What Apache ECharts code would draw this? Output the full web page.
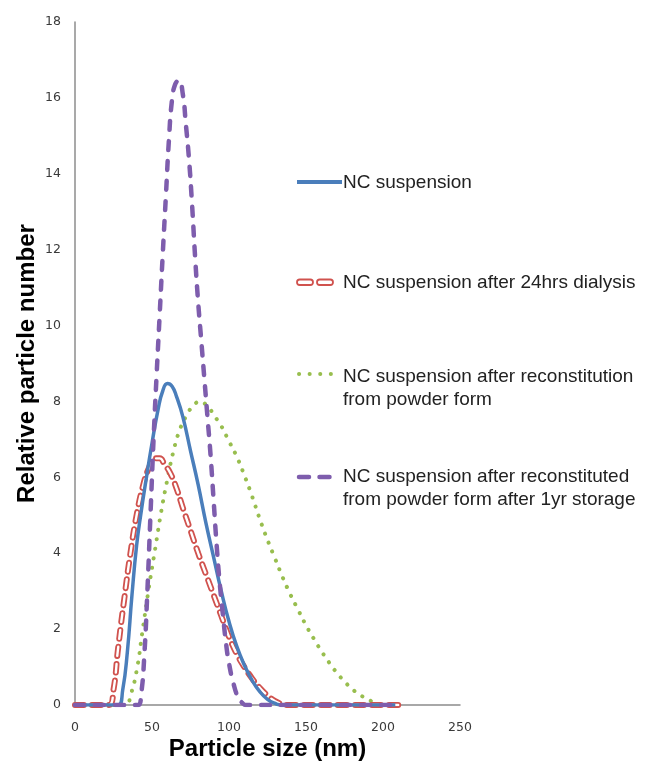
<!DOCTYPE html>
<html>
<head>
<meta charset="utf-8">
<script src="https://cdn.jsdelivr.net/npm/echarts@6/dist/echarts.min.js"></script>
<style>
  html, body { margin: 0; padding: 0; background: #fff; }
  #chart { width: 648px; height: 768px; }
</style>
</head>
<body>
<div id="chart"></div>
<script>
// Particle size distributions, [size (nm), relative particle number]
const seriesNames = [
  'NC suspension',
  'NC suspension after 24hrs dialysis',
  'NC suspension after reconstitution\nfrom powder form',
  'NC suspension after reconstituted\nfrom powder form after 1yr storage'
];

const ncSuspension = [
  [0, 0], [20, 0], [28, 0], [31, 0.4], [34, 1.4], [37, 2.9], [40, 4.2], [43, 5.1],
  [46, 5.9], [50, 6.9], [54, 7.8], [57, 8.28], [60, 8.47], [63, 8.4], [66, 8.12],
  [70, 7.6], [75, 6.7], [80, 5.8], [85, 4.8], [90, 3.9], [95, 3.0], [100, 2.2],
  [105, 1.55], [110, 1.05], [115, 0.65], [120, 0.35], [125, 0.15], [130, 0.04],
  [134, 0], [170, 0], [208, 0]
];

const afterDialysis = [
  [0, 0], [15, 0], [22, 0], [25, 0.4], [28, 1.5], [32, 2.8], [36, 4.0], [40, 5.0],
  [44, 5.75], [48, 6.25], [52, 6.5], [55, 6.5], [58, 6.35], [62, 6.1], [66, 5.7],
  [70, 5.2], [75, 4.6], [80, 4.0], [85, 3.45], [90, 2.9], [95, 2.35], [100, 1.8],
  [105, 1.35], [110, 1.0], [115, 0.7], [120, 0.45], [125, 0.25], [130, 0.1],
  [135, 0.02], [138, 0], [175, 0], [210, 0]
];

const afterReconstitution = [
  [0, 0], [20, 0], [33, 0], [36, 0.25], [40, 0.9], [44, 2.0], [48, 3.1], [52, 4.1],
  [56, 5.1], [60, 5.95], [64, 6.7], [68, 7.25], [72, 7.6], [76, 7.85], [81, 7.99],
  [86, 7.88], [90, 7.65], [95, 7.35], [100, 6.95], [105, 6.55], [110, 6.05], [115, 5.5],
  [120, 4.9], [125, 4.35], [130, 3.85], [135, 3.35], [140, 2.9], [145, 2.5], [150, 2.1],
  [155, 1.75], [160, 1.42], [165, 1.12], [170, 0.85], [175, 0.62], [180, 0.42],
  [185, 0.27], [190, 0.15], [195, 0.06], [200, 0], [208, 0]
];

const afterStorage = [
  [0, 0], [20, 0], [41, 0], [43, 0.3], [45, 1.3], [47, 3.0], [49, 5.0], [51, 7.0],
  [53, 8.7], [55, 10.3], [57, 11.9], [59, 13.4], [61, 14.9], [63, 15.95], [65, 16.35],
  [67.5, 16.47], [70, 16.1], [72, 15.3], [74, 14.4], [76, 13.2], [78, 11.8], [80, 10.6],
  [82, 9.6], [84, 8.6], [86, 7.6], [88, 6.6], [90, 5.4], [92, 4.2], [94, 3.2], [96, 2.4],
  [98, 1.65], [100, 1.1], [103, 0.55], [106, 0.2], [109, 0.04], [111, 0], [160, 0], [205, 0]
];

const xTicks = { min: 0, max: 250, interval: 50 };
const yTicks = { min: 0, max: 18, interval: 2 };

const colors = {
  blue: '#4A7EBB',
  red: '#D0524E',
  green: '#98BE4E',
  purple: '#7E5DAD'
};

const chart = echarts.init(document.getElementById('chart'), null, { renderer: 'canvas' });

// Legend drawn as a column of samples and captions to the right of the plot
const legendX = 297;
const textX = 343;
const lineH = 23;
const legendRows = [183, 283, 377, 477];

const legendGraphics = [
  { type: 'line', shape: { x1: legendX, y1: legendRows[0] - 1, x2: 342, y2: legendRows[0] - 1 },
    style: { stroke: colors.blue, lineWidth: 4 } },
  { type: 'rect', shape: { x: legendX, y: legendRows[1] - 3.5, width: 16, height: 5.5, r: 2.75 },
    style: { fill: '#fff', stroke: colors.red, lineWidth: 1.8 } },
  { type: 'rect', shape: { x: 317, y: legendRows[1] - 3.5, width: 16, height: 5.5, r: 2.75 },
    style: { fill: '#fff', stroke: colors.red, lineWidth: 1.8 } },
  { type: 'line', shape: { x1: 299, y1: legendRows[2] - 3, x2: 332, y2: legendRows[2] - 3 },
    style: { stroke: colors.green, lineWidth: 4, lineDash: [0.1, 10.5], lineCap: 'round' } },
  { type: 'line', shape: { x1: 299, y1: legendRows[3], x2: 332, y2: legendRows[3] },
    style: { stroke: colors.purple, lineWidth: 4.5, lineDash: [10, 10.5], lineCap: 'round' } }
];

seriesNames.forEach(function (name, i) {
  legendGraphics.push({
    type: 'text',
    style: {
      text: name,
      x: textX,
      y: legendRows[i] - lineH / 2,
      font: '19px "Liberation Sans", Arial, sans-serif',
      fill: '#222',
      lineHeight: lineH,
      verticalAlign: 'top',
      align: 'left'
    }
  });
});

const option = {
  animation: false,
  backgroundColor: '#fff',
  grid: { left: 75, right: 188, top: 22, bottom: 63 },
  xAxis: {
    type: 'value',
    min: xTicks.min, max: xTicks.max, interval: xTicks.interval,
    name: 'Particle size (nm)',
    nameLocation: 'middle',
    nameGap: 32,
    nameMoveOverlap: false,
    nameTextStyle: { fontFamily: '"Liberation Sans", Arial, sans-serif', fontWeight: 'bold', fontSize: 24, color: '#000' },
    axisLine: { show: true, lineStyle: { color: '#8c8c8c', width: 1.5 } },
    axisTick: { show: false },
    splitLine: { show: false },
    axisLabel: { margin: 16, fontFamily: '"DejaVu Sans", sans-serif', fontSize: 12.5, color: '#3a3a3a' }
  },
  yAxis: {
    type: 'value',
    min: yTicks.min, max: yTicks.max, interval: yTicks.interval,
    name: 'Relative particle number',
    nameLocation: 'middle',
    nameGap: 36,
    nameMoveOverlap: false,
    nameTextStyle: { fontFamily: '"Liberation Sans", Arial, sans-serif', fontWeight: 'bold', fontSize: 24, color: '#000' },
    axisLine: { show: true, lineStyle: { color: '#8c8c8c', width: 1.5 } },
    axisTick: { show: false },
    splitLine: { show: false },
    axisLabel: { margin: 14, fontFamily: '"DejaVu Sans", sans-serif', fontSize: 12.5, color: '#3a3a3a' }
  },
  graphic: legendGraphics,
  series: [
    {
      name: seriesNames[2], type: 'line', data: afterReconstitution, smooth: 0.5,
      symbol: 'none', z: 2,
      lineStyle: { color: colors.green, width: 4, type: [0.1, 9.5], cap: 'round' }
    },
    {
      name: seriesNames[1], type: 'line', data: afterDialysis, smooth: 0.5,
      symbol: 'none', z: 3,
      lineStyle: { color: colors.red, width: 6, type: [9, 8], cap: 'round' }
    },
    {
      // hollow core of the dialysis dashes
      id: 'dialysis-core', type: 'line', data: afterDialysis, smooth: 0.5,
      symbol: 'none', z: 3, silent: true,
      lineStyle: { color: '#fff', width: 2.4, type: [9, 8], cap: 'round' }
    },
    {
      name: seriesNames[0], type: 'line', data: ncSuspension, smooth: 0.5,
      symbol: 'none', z: 4,
      lineStyle: { color: colors.blue, width: 3.5 }
    },
    {
      name: seriesNames[3], type: 'line', data: afterStorage, smooth: 0.5,
      symbol: 'none', z: 5,
      lineStyle: { color: colors.purple, width: 4.5, type: [9, 11], cap: 'round' }
    }
  ]
};

chart.setOption(option);
</script>
</body>
</html>
